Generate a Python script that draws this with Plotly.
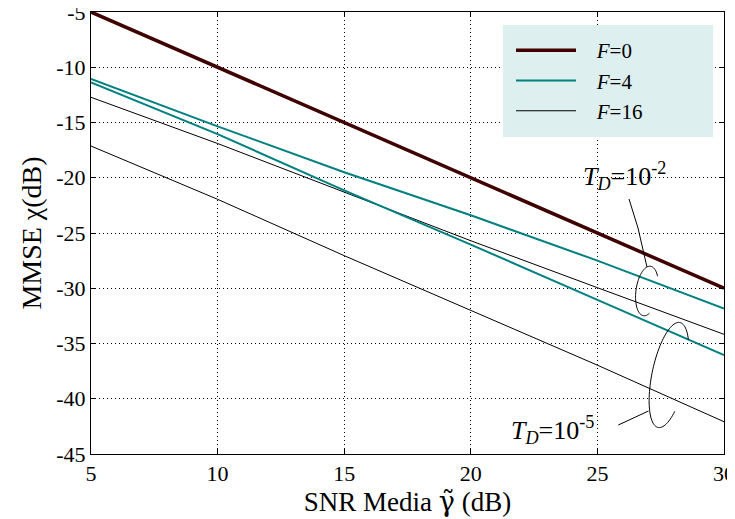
import numpy as np
import plotly.graph_objects as go

# ---- data ----
snr = [5, 10, 15, 20, 25, 30]
f0 = [-5, -10, -15, -20, -25, -30]
f4_td2 = [-11.06, -15.35, -19.5, -23.4, -27.5, -31.85]
f4_td5 = [-11.37, -16.05, -21.15, -26.05, -31.05, -36.04]
f16_td2 = [-12.72, -16.9, -21.3, -25.7, -29.95, -34.17]
f16_td5 = [-17.13, -21.95, -27.05, -32.0, -36.96, -42.08]

xtick_vals = [5, 10, 15, 20, 25, 30]
xtick_text = ["5", "10", "15", "20", "25", "30"]
ytick_vals = [-5, -10, -15, -20, -25, -30, -35, -40, -45]
ytick_text = ["-5", "-10", "-15", "-20", "-25", "-30", "-35", "-40", "-45"]

# ---- layout geometry (page pixels; page body has an 8px margin) ----
OFF = 8
W, H = 727, 511
ML = 91 - OFF
MT = 12 - OFF
MR = W - (724 - OFF)
MB = H - (454 - OFF)
PW, PH = W - ML - MR, H - MT - MB
XR = [5, 30]
YR = [-45, -5]

FONT = "Liberation Serif"
C_F0 = "#3f0000"
C_F4 = "#008080"
C_F16 = "#000000"


def p2d(px, py):
    """page pixel -> data coords"""
    x = XR[0] + (px - OFF - ML) / PW * (XR[1] - XR[0])
    y = YR[1] - (py - OFF - MT) / PH * (YR[1] - YR[0])
    return x, y


def p2paper(px, py):
    return (px - OFF - ML) / PW, 1 - (py - OFF - MT) / PH


def arc_path(cx, cy, a, b, phi_deg, t0, t1, n=80):
    phi = np.radians(phi_deg)
    t = np.radians(np.linspace(t0, t1, n))
    e1 = (np.cos(phi), np.sin(phi))
    e2 = (-np.sin(phi), np.cos(phi))
    px = cx + a * np.cos(t) * e1[0] + b * np.sin(t) * e2[0]
    py = cy + a * np.cos(t) * e1[1] + b * np.sin(t) * e2[1]
    pts = [p2d(u, v) for u, v in zip(px, py)]
    return "M" + " L".join(f"{u:.4f},{v:.4f}" for u, v in pts)


def seg_path(points):
    pts = [p2d(u, v) for u, v in points]
    return "M" + " L".join(f"{u:.4f},{v:.4f}" for u, v in pts)


fig = go.Figure()

fig.add_trace(go.Scatter(x=snr, y=f16_td5, mode="lines", line=dict(color=C_F16, width=1),
                         name="F=16", showlegend=False))
fig.add_trace(go.Scatter(x=snr, y=f16_td2, mode="lines", line=dict(color=C_F16, width=1),
                         name="F=16", showlegend=False))
fig.add_trace(go.Scatter(x=snr, y=f4_td5, mode="lines", line=dict(color=C_F4, width=2),
                         name="F=4", showlegend=False))
fig.add_trace(go.Scatter(x=snr, y=f4_td2, mode="lines", line=dict(color=C_F4, width=2),
                         name="F=4", showlegend=False))
fig.add_trace(go.Scatter(x=snr, y=f0, mode="lines", line=dict(color=C_F0, width=3.5),
                         name="F=0", showlegend=False))

# legend entries (in legend order)
GAP = "&nbsp;&nbsp;&nbsp;"
fig.add_trace(go.Scatter(x=[None], y=[None], mode="lines", line=dict(color=C_F0, width=3.5),
                         name=GAP + "<i>F</i>=0"))
fig.add_trace(go.Scatter(x=[None], y=[None], mode="lines", line=dict(color=C_F4, width=2),
                         name=GAP + "<i>F</i>=4"))
fig.add_trace(go.Scatter(x=[None], y=[None], mode="lines", line=dict(color=C_F16, width=1),
                         name=GAP + "<i>F</i>=16"))

shapes = []
# legend background box
bx0, by0 = p2paper(503, 137)
bx1, by1 = p2paper(713, 25)
shapes.append(dict(type="rect", xref="paper", yref="paper",
                   x0=bx0, x1=bx1, y0=by0, y1=by1,
                   fillcolor="#ddefef", line=dict(width=0), layer="above"))
# T_D = 1e-2 ellipse and leader
shapes.append(dict(type="path", xref="x", yref="y",
                   path=arc_path(647, 291, 11, 25, 8, 60, 320),
                   line=dict(color="black", width=1)))
shapes.append(dict(type="path", xref="x", yref="y",
                   path=seg_path([(629, 199), (638, 228), (643.5, 252), (647, 267)]),
                   line=dict(color="black", width=1)))
# T_D = 1e-5 ellipse and leader
shapes.append(dict(type="path", xref="x", yref="y",
                   path=arc_path(669, 375, 17, 53.6, 11.7, 40, 314),
                   line=dict(color="black", width=1)))
shapes.append(dict(type="path", xref="x", yref="y",
                   path=seg_path([(618.3, 425), (648.5, 411)]),
                   line=dict(color="black", width=1)))

ax1 = p2d(624, 176)
ax2 = p2d(552, 430)
annotations = [
    dict(x=ax1[0], y=ax1[1], xref="x", yref="y", showarrow=False,
         text="<i>T</i><sub><i>D</i></sub>=10<sup>-2</sup>",
         font=dict(family=FONT, size=26, color="black")),
    dict(x=ax2[0], y=ax2[1], xref="x", yref="y", showarrow=False,
         text="<i>T</i><sub><i>D</i></sub>=10<sup>-5</sup>",
         font=dict(family=FONT, size=26, color="black")),
]

axis_common = dict(showline=True, linecolor="black", linewidth=1, mirror="ticks",
                   ticks="inside", ticklen=5, tickcolor="black", automargin=False,
                   ticklabeloverflow="allow",
                   showgrid=True, gridcolor="black", gridwidth=1, griddash="1px,3px",
                   zeroline=False, tickfont=dict(family=FONT, size=22, color="black"))

lx, ly = p2paper(511, 30)
fig.update_layout(
    width=W, height=H,
    margin=dict(l=ML, r=MR, t=MT, b=MB, autoexpand=False),
    paper_bgcolor="white", plot_bgcolor="white",
    font=dict(family=FONT, color="black"),
    xaxis=dict(range=XR, tickvals=xtick_vals, ticktext=xtick_text,
               title=dict(text="SNR Media <span style='font-family:DejaVu Serif'>γ̃</span> (dB)",
                          font=dict(family=FONT, size=27), standoff=2),
               **axis_common),
    yaxis=dict(range=YR, tickvals=ytick_vals, ticktext=ytick_text,
               title=dict(text="MMSE χ(dB)", font=dict(family=FONT, size=28), standoff=6),
               **axis_common),
    legend=dict(x=lx, y=ly, xanchor="left", yanchor="top",
                bgcolor="rgba(0,0,0,0)", borderwidth=0, itemwidth=60,
                font=dict(family=FONT, size=21, color="black"), tracegroupgap=0),
    shapes=shapes,
    annotations=annotations,
    showlegend=True,
)

fig.write_html("out.html")
